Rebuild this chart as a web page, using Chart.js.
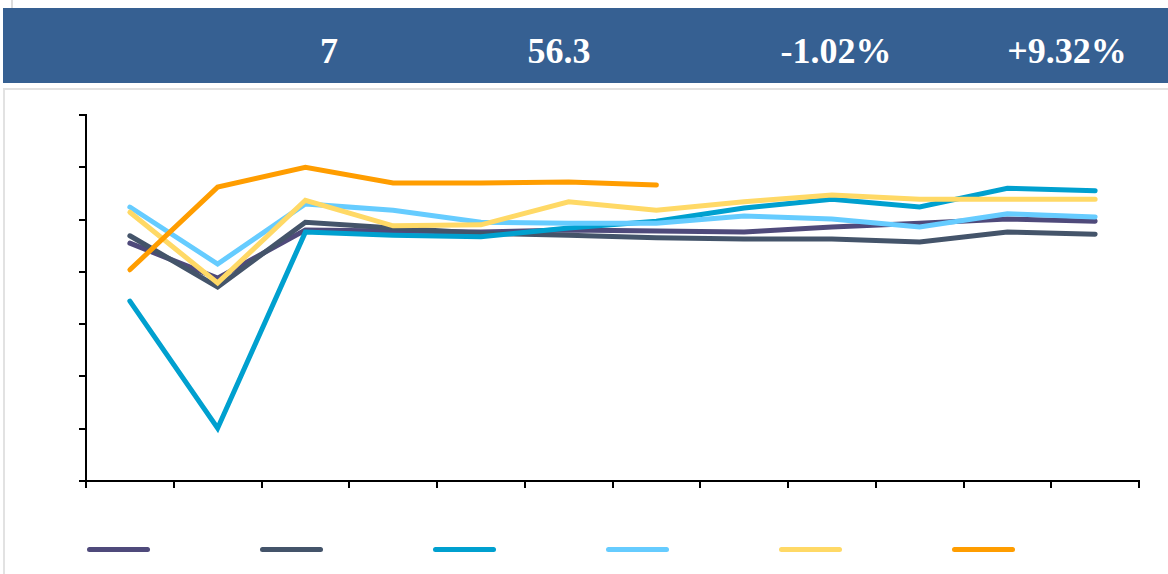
<!DOCTYPE html>
<html>
<head>
<meta charset="utf-8">
<script src="https://cdn.jsdelivr.net/npm/chart.js@4"></script>
<style>
  body { margin: 0; background: #fff; width: 1168px; height: 574px; position: relative; overflow: hidden; font-family: "Liberation Serif", serif; }
  #top-box { position: absolute; left: 11px; top: -4px; width: 1170px; height: 10px; border: 2px solid #dcdcdc; }
  #band { position: absolute; left: 3px; top: 8px; width: 1165px; height: 75px; background: #366092; }
  #band span { position: absolute; top: 22px; color: #fff; font-weight: bold; font-size: 36px; transform: translateX(-50%); white-space: nowrap; }
  #chart-box { position: absolute; left: 3px; top: 88px; width: 1170px; height: 490px; border: 2px solid #e2e2e2; }
  #chart-wrap { position: absolute; left: 0; top: 0; width: 1163px; height: 484px; }
  #legend { position: absolute; left: 82px; top: 457px; display: flex; gap: 110px; }
  #legend i { display: block; width: 63px; height: 5px; border-radius: 3px; }
</style>
</head>
<body>
<div id="top-box"></div>
<div id="band"></div>
<div id="chart-box">
  <div id="chart-wrap"><canvas id="line-chart"></canvas></div>
  <div id="legend"></div>
</div>
<script>
// header figures
const headerTexts = ['7', '56.3', '-1.02%', '+9.32%'];
const headerCenters = [326, 556, 833, 1064];

// 12 periods, labels not shown in the picture
const categories = ['1', '2', '3', '4', '5', '6', '7', '8', '9', '10', '11', '12'];

// series values (axis 0..7)
const seriesPurple = [4.55, 3.88, 4.80, 4.78, 4.76, 4.80, 4.78, 4.76, 4.86, 4.93, 5.01, 4.97];
const seriesSlate = [4.69, 3.71, 4.95, 4.84, 4.74, 4.70, 4.65, 4.63, 4.63, 4.57, 4.76, 4.72];
const seriesTeal = [3.44, 1.01, 4.76, 4.70, 4.67, 4.84, 4.97, 5.22, 5.39, 5.24, 5.60, 5.55];
const seriesLightBlue = [5.24, 4.15, 5.30, 5.18, 4.95, 4.93, 4.93, 5.07, 5.01, 4.86, 5.11, 5.05];
const seriesYellow = [5.14, 3.79, 5.37, 4.88, 4.90, 5.34, 5.18, 5.34, 5.47, 5.39, 5.39, 5.39];
const seriesOrange = [4.04, 5.62, 6.00, 5.70, 5.70, 5.72, 5.66, null, null, null, null, null];

const colors = ['#4f4a7b', '#44546a', '#00a0cf', '#66ccff', '#ffd966', '#ff9d00'];
const allSeries = [seriesPurple, seriesSlate, seriesTeal, seriesLightBlue, seriesYellow, seriesOrange];
const drawOrder = [5, 4, 3, 2, 1, 0];

// header text
let bandHtml = '';
headerTexts.forEach(function(t, i) {
  bandHtml += '<span style="left:' + headerCenters[i] + 'px">' + t + '</span>';
});
document.getElementById('band').innerHTML = bandHtml;

// legend (lines only, no names)
document.getElementById('legend').innerHTML = colors.map(function(c) {
  return '<i style="background:' + c + '"></i>';
}).join('');

var ctx = document.getElementById('line-chart').getContext('2d');

var config = {
  type: 'line',
  data: {
    labels: categories,
    datasets: allSeries.map(function(values, i) {
      return {
        data: values,
        borderColor: colors[i],
        backgroundColor: colors[i],
        borderWidth: 5,
        borderCapStyle: 'round',
        pointRadius: 0,
        tension: 0,
        spanGaps: false,
        order: drawOrder[i]
      };
    })
  },
  options: {
    responsive: true,
    maintainAspectRatio: false,
    animation: false,
    layout: {
      padding: { left: 74, right: 29, top: 25, bottom: 86 }
    },
    plugins: {
      legend: { display: false },
      tooltip: { enabled: false }
    },
    scales: {
      x: {
        offset: true,
        grid: { offset: true, drawOnChartArea: false, drawTicks: true, tickLength: 7, color: '#000', lineWidth: 2 },
        border: { display: true, color: '#000', width: 2 },
        ticks: { display: false }
      },
      y: {
        min: 0,
        max: 7,
        grid: { drawOnChartArea: false, drawTicks: true, tickLength: 7, color: '#000', lineWidth: 2 },
        border: { display: true, color: '#000', width: 2 },
        ticks: { display: false, stepSize: 1 }
      }
    }
  }
};

var lineChart = new Chart(ctx, config);
</script>
</body>
</html>
